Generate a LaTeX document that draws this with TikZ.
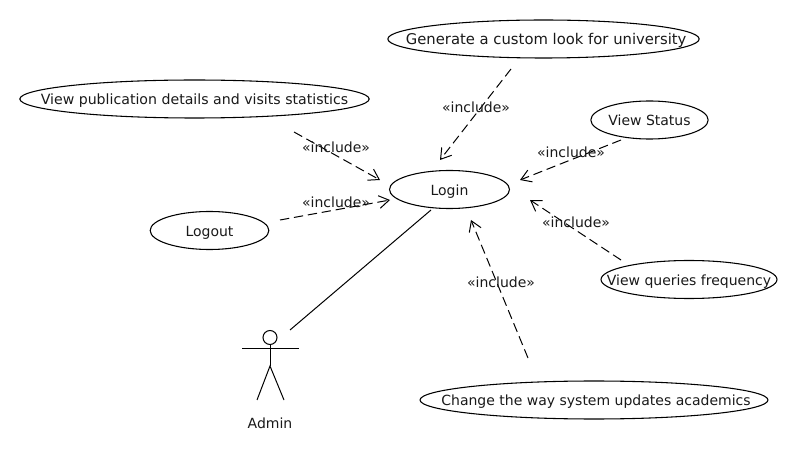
\documentclass[tikz,border=0pt]{standalone}
\usepackage{fontspec}
\setmainfont{DejaVu Sans}
\usetikzlibrary{shapes.geometric,arrows.meta}
\newcommand{\uctext}[2][0pt]{\makebox[0pt]{\hspace*{#1}\raisebox{-4.3pt}[0pt][0pt]{#2}}}
\tikzset{
  usecase/.style={draw=black,line width=0.8pt,ellipse,inner sep=0pt,font=\fontsize{10.5pt}{12pt}\selectfont,text=black!90},
  lbl/.style={inner sep=0pt,font=\fontsize{10.5pt}{12pt}\selectfont,text=black!90},
  inc/.style={draw=black,line width=0.75pt,dash pattern=on 7pt off 3.6pt,-{Straight Barb[length=7.5pt,width=9.5pt,line width=0.75pt]}},
  assoc/.style={draw=black,line width=0.75pt},
  limb/.style={draw=black,line width=0.75pt},
}
\begin{document}
\begin{tikzpicture}[x=0.75pt,y=-0.75pt]
\useasboundingbox (0,0) rectangle (800,470);
\node[usecase,minimum width=90pt,minimum height=28.5pt] (login) at (449.5,189.5) {\uctext{Login}};
\node[usecase,minimum width=233.5pt,minimum height=28.5pt] (custom) at (543.5,39) {\uctext[4pt]{\fontsize{11.1pt}{12pt}\selectfont Generate a custom look for university}};
\node[usecase,minimum width=262pt,minimum height=28.5pt] (pub) at (194.5,99) {\uctext{\fontsize{10.6pt}{12pt}\selectfont View publication details and visits statistics}};
\node[usecase,minimum width=89pt,minimum height=28.5pt] (logout) at (209.5,230.5) {\uctext{Logout}};
\node[usecase,minimum width=88pt,minimum height=28.5pt] (status) at (649.5,120) {\uctext{View Status}};
\node[usecase,minimum width=132pt,minimum height=28.5pt] (queries) at (689,279.5) {\uctext{View queries frequency}};
\node[usecase,minimum width=261pt,minimum height=28.5pt] (change) at (594,400) {\uctext[3pt]{Change the way system updates academics}};
% actor
\node[draw=black,line width=0.75pt,circle,minimum size=10.5pt,inner sep=0pt] (head) at (270,337.5) {};
\coordinate (neck) at (270,348.5);
\coordinate (handl) at (242,348.5);
\coordinate (handr) at (299,348.5);
\coordinate (hip) at (270,366);
\coordinate (footl) at (257,400);
\coordinate (footr) at (284,400);
\draw[limb] (head.south) -- (hip);
\draw[limb] (handl) -- (handr);
\draw[limb] (footl) -- (hip) -- (footr);
\node[lbl] (admin) at (270,423) {Admin};
% free ends of the connectors
\coordinate (c1) at (511,69);   \coordinate (l1) at (440,160);
\coordinate (c2) at (294,132);  \coordinate (l2) at (380,180);
\coordinate (c3) at (280,220);  \coordinate (l3) at (390,200);
\coordinate (c4) at (621,140);  \coordinate (l4) at (520,180);
\coordinate (c5) at (621,260);  \coordinate (l5) at (530,200);
\coordinate (c6) at (528,358);  \coordinate (l6) at (471,220);
\coordinate (c7) at (290,330);  \coordinate (l7) at (431,210);
\draw[inc] (c1) -- (l1);
\draw[inc] (c2) -- (l2);
\draw[inc] (c3) -- (l3);
\draw[inc] (c4) -- (l4);
\draw[inc] (c5) -- (l5);
\draw[inc] (c6) -- (l6);
\draw[assoc] (c7) -- (l7);
\node[lbl] (i1) at (476,107) {«include»};
\node[lbl] (i2) at (336,147) {«include»};
\node[lbl] (i3) at (336,202) {«include»};
\node[lbl] (i4) at (571,152) {«include»};
\node[lbl] (i5) at (576,222) {«include»};
\node[lbl] (i6) at (501,282) {«include»};
\end{tikzpicture}
\end{document}
